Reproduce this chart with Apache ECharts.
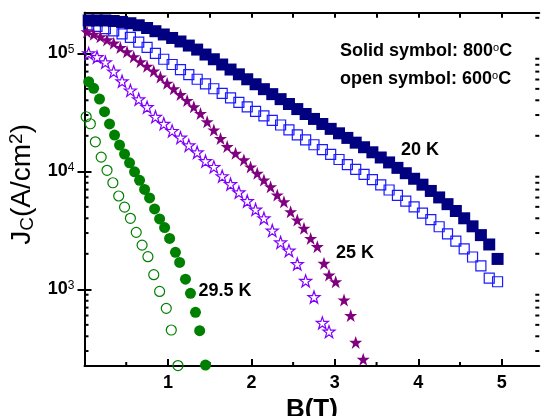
<!DOCTYPE html>
<html>
<head>
<meta charset="utf-8">
<script src="https://cdn.jsdelivr.net/npm/echarts@6/dist/echarts.min.js"></script>
<style>
  html, body { margin: 0; padding: 0; background: #fff; }
  #chart { width: 544px; height: 416px; }
</style>
</head>
<body>
<div id="chart"></div>
<script>
// 20 K, 800 C (solid squares)
const x20s = [0.05, 0.15, 0.25, 0.35, 0.45, 0.55, 0.65, 0.75, 0.85, 0.95, 1.05, 1.15, 1.25, 1.35, 1.45, 1.55, 1.65, 1.75, 1.85, 1.95,
  2.05, 2.15, 2.25, 2.35, 2.45, 2.55, 2.65, 2.75, 2.85, 2.95, 3.05, 3.15, 3.25, 3.35, 3.45, 3.55, 3.65, 3.75, 3.85, 3.95,
  4.05, 4.15, 4.25, 4.35, 4.45, 4.55, 4.65, 4.75, 4.85, 4.95];
const jc20s = [190000, 190000, 190000, 188000, 184500, 180000, 173000, 164000, 154000, 144500, 135000, 126000, 116400, 107600, 97700,
  89100, 80400, 72900, 66400, 60300, 54700, 49700, 45100, 40900, 37200, 33700, 30600, 27800, 25200, 22900,
  21000, 19200, 17500, 16000, 14500, 13100, 11900, 10700, 9640, 8650, 7710, 6820, 6010, 5270, 4610, 4000, 3420, 2880, 2400, 1810];

// 20 K, 600 C (open squares)
const x20o = x20s;
const jc20o = [174000, 169000, 162000, 155000, 146000, 136500, 124500, 112200, 100000, 89100, 80400, 72800, 66100, 60300, 55000,
  50100, 45700, 41900, 38400, 35200, 32200, 29500, 27000, 24700, 22500, 20400, 18500, 16800, 15300, 13900,
  12600, 11400, 10400, 9420, 8510, 7690, 6950, 6250, 5600, 4990, 4420, 3890, 3390, 2950, 2560, 2200, 1880, 1580, 1245, 1160];

// 25 K, 800 C (solid stars)
const x25s = [0.03, 0.11, 0.19, 0.27, 0.35, 0.43, 0.51, 0.59, 0.67, 0.75, 0.83, 0.91, 0.99, 1.07, 1.15, 1.23, 1.31, 1.39, 1.47, 1.55,
  1.63, 1.71, 1.81, 1.91, 1.99, 2.07, 2.15, 2.23, 2.31, 2.39, 2.47, 2.55, 2.63, 2.71, 2.79, 2.87, 2.93, 3.01, 3.11, 3.19, 3.25, 3.34];
const jc25s = [152000, 145000, 138000, 130000, 122000, 112000, 103000, 93500, 85000, 77600, 70800, 63000, 55700, 50100, 44700,
  39800, 35200, 30900, 26300, 22400, 19000, 16200, 14200, 12500, 10900, 9610, 8440, 7410, 6300, 5530, 4550,
  3870, 3290, 2700, 2300, 1660, 1320, 1160, 811, 600, 355, 255];

// 25 K, 600 C (open stars)
const x25o = [0.05, 0.15, 0.25, 0.35, 0.45, 0.55, 0.65, 0.75, 0.85, 0.95, 1.05, 1.15, 1.25, 1.35, 1.45, 1.55, 1.65, 1.75, 1.85, 1.95,
  2.05, 2.15, 2.25, 2.35, 2.45, 2.55, 2.65, 2.75, 2.85, 2.93];
const jc25o = [100000, 93000, 84000, 70000, 58000, 48500, 40800, 35000, 29000, 25300, 22000, 19300, 16600, 14500, 12200,
  10900, 9100, 7800, 6650, 5600, 4750, 4000, 3150, 2500, 2130, 1640, 1180, 860, 520, 438];

// 29.5 K, 800 C (solid circles)
const x29s = [0.05, 0.11, 0.18, 0.24, 0.30, 0.36, 0.42, 0.48, 0.54, 0.60, 0.66, 0.72, 0.78, 0.84, 0.90, 0.96, 1.02, 1.09, 1.14,
  1.21, 1.27, 1.33, 1.38, 1.45];
const jc29s = [57500, 50500, 41000, 32000, 25200, 20300, 16700, 14000, 11800, 9900, 8400, 7030, 5950, 4800, 3950, 3340, 2700,
  2060, 1690, 1220, 925, 638, 446, 228];

// 29.5 K, 600 C (open circles)
const x29o = [0.02, 0.07, 0.13, 0.20, 0.27, 0.34, 0.41, 0.48, 0.55, 0.62, 0.69, 0.76, 0.83, 0.90, 0.98, 1.04, 1.12];
const jc29o = [29000, 25300, 17800, 13200, 10200, 8000, 6180, 4970, 4000, 3040, 2370, 1890, 1330, 960, 690, 452, 226];

// axis ticks
const xMajor = [1, 2, 3, 4, 5];
const xMinor = [0.5, 1.5, 2.5, 3.5, 4.5];
const xTop = [0.5, 1, 1.5, 2, 2.5, 3, 3.5, 4, 4.5, 5];
const yMajor = [1000, 10000, 100000];
const yMinor = [300, 400, 500, 600, 700, 800, 900, 2000, 3000, 4000, 5000, 6000, 7000, 8000, 9000,
  20000, 30000, 40000, 50000, 60000, 70000, 80000, 90000, 200000];

const X_MIN = 0, X_MAX = 5.45, Y_MIN = 224, Y_MAX = 221000;
const FONT = 'Liberation Sans, Arial, sans-serif';
const STAR = 'path://M50,2 L61.8,36.2 L97.6,36.2 L68.6,57.4 L79.4,91.6 L50,70.5 L20.6,91.6 L31.4,57.4 L2.4,36.2 L38.2,36.2 Z';
const MINOR_LEN = 4;

const zip = (xs, ys) => xs.map((x, i) => [x, ys[i]]);

const axisLine = { show: true, lineStyle: { color: '#000', width: 2 } };
const tickStyle = { color: '#000', width: 2 };

const chart = echarts.init(document.getElementById('chart'));

function scatter(name, xs, ys, symbol, size, color, open) {
  return {
    name: name,
    type: 'scatter',
    data: zip(xs, ys),
    symbol: symbol,
    symbolSize: size,
    silent: true,
    itemStyle: open
      ? { color: 'transparent', borderColor: color, borderWidth: 1.2, opacity: 1 }
      : { color: color, opacity: 1 },
  };
}

chart.setOption({
  animation: false,
  grid: { left: 84.5, right: 4.7, top: 12.7, bottom: 50, containLabel: false, outerBoundsMode: 'none' },
  xAxis: [
    {
      type: 'value', position: 'bottom', min: X_MIN, max: X_MAX,
      splitLine: { show: false },
      axisLine: axisLine,
      axisTick: { inside: true, length: 7, lineStyle: tickStyle, customValues: xMajor },
      axisLabel: { customValues: xMajor, color: '#000', fontSize: 18, fontWeight: 'bold', fontFamily: FONT, margin: 8 },
      name: 'B(T)', nameLocation: 'middle', nameGap: 22,
      nameTextStyle: { color: '#000', fontSize: 26, fontWeight: 'bold', fontFamily: FONT },
    },
    {
      type: 'value', position: 'top', min: X_MIN, max: X_MAX,
      splitLine: { show: false },
      axisLine: axisLine,
      axisTick: { inside: true, length: 5, lineStyle: tickStyle, customValues: xTop },
      axisLabel: { show: false },
    },
  ],
  yAxis: [
    {
      type: 'log', position: 'left', min: Y_MIN, max: Y_MAX,
      splitLine: { show: false },
      axisLine: axisLine,
      axisTick: { inside: true, length: 7, lineStyle: tickStyle, customValues: yMajor },
      axisLabel: {
        customValues: yMajor, margin: 10,
        formatter: (v) => '{b|10}{s|' + Math.round(Math.log10(v)) + '}',
        rich: {
          b: { fontSize: 18, fontWeight: 'bold', fontFamily: FONT, color: '#000', lineHeight: 20 },
          s: { fontSize: 12, fontFamily: FONT, color: '#000', verticalAlign: 'top', lineHeight: 12 },
        },
      },
      name: '{t|J}{sub|C}{t|(A/cm}{sup|2}{t|)}',
      nameLocation: 'middle', nameGap: 36,
      nameTextStyle: {
        padding: [0, 0, 0, 10],
        rich: {
          t: { fontSize: 28, fontFamily: FONT, color: '#000', lineHeight: 30 },
          sub: { fontSize: 19, fontFamily: FONT, color: '#000', verticalAlign: 'bottom', lineHeight: 19 },
          sup: { fontSize: 19, fontFamily: FONT, color: '#000', verticalAlign: 'top', lineHeight: 19 },
        },
      },
    },
    {
      type: 'log', position: 'right', min: Y_MIN, max: Y_MAX,
      splitLine: { show: false },
      axisLine: axisLine,
      axisTick: { inside: true, length: 7, lineStyle: tickStyle, customValues: yMajor },
      axisLabel: { show: false },
    },
  ],
  series: [
    scatter('20 K 600', x20o, jc20o, 'rect', 10, '#1a1aff', true),
    scatter('20 K 800', x20s, jc20s, 'rect', 12, '#000080', false),
    scatter('25 K 600', x25o, jc25o, STAR, 12, '#8000ff', true),
    scatter('25 K 800', x25s, jc25s, STAR, 13, '#800080', false),
    scatter('29.5 K 600', x29o, jc29o, 'circle', 10, '#008000', true),
    scatter('29.5 K 800', x29s, jc29s, 'circle', 11, '#008000', false),
    {
      // minor ticks on left and right log axes
      type: 'custom', silent: true,
      data: yMinor.map((v) => [X_MIN, v]),
      renderItem(params, api) {
        const cs = params.coordSys;
        const y = api.coord([X_MIN, api.value(1)])[1];
        const style = { stroke: '#000', lineWidth: 2 };
        return {
          type: 'group',
          children: [
            { type: 'line', shape: { x1: cs.x, y1: y, x2: cs.x + MINOR_LEN, y2: y }, style },
            { type: 'line', shape: { x1: cs.x + cs.width, y1: y, x2: cs.x + cs.width - MINOR_LEN, y2: y }, style },
          ],
        };
      },
    },
    {
      // minor ticks on bottom axis
      type: 'custom', silent: true,
      data: xMinor.map((v) => [v, Y_MIN]),
      renderItem(params, api) {
        const cs = params.coordSys;
        const x = api.coord([api.value(0), Y_MIN])[0];
        const yb = cs.y + cs.height;
        return { type: 'line', shape: { x1: x, y1: yb, x2: x, y2: yb - MINOR_LEN }, style: { stroke: '#000', lineWidth: 2 } };
      },
    },
  ],
  graphic: [
    {
      type: 'text', x: 340, y: 51,
      style: {
        text: '{t|Solid symbol: 800}{s|o}{t|C}', verticalAlign: 'middle',
        rich: {
          t: { fontSize: 18, fontWeight: 'bold', fontFamily: FONT, fill: '#000', lineHeight: 18 },
          s: { fontSize: 11, fontFamily: FONT, fill: '#000', verticalAlign: 'top', lineHeight: 11 },
        },
      },
    },
    {
      type: 'text', x: 340, y: 79,
      style: {
        text: '{t|open symbol: 600}{s|o}{t|C}', verticalAlign: 'middle',
        rich: {
          t: { fontSize: 18, fontWeight: 'bold', fontFamily: FONT, fill: '#000', lineHeight: 18 },
          s: { fontSize: 11, fontFamily: FONT, fill: '#000', verticalAlign: 'top', lineHeight: 11 },
        },
      },
    },
    { type: 'text', x: 401, y: 150, style: { text: '20 K', font: 'bold 18px ' + FONT, fill: '#000', verticalAlign: 'middle' } },
    { type: 'text', x: 336, y: 253.5, style: { text: '25 K', font: 'bold 18px ' + FONT, fill: '#000', verticalAlign: 'middle' } },
    { type: 'text', x: 198.5, y: 291.5, style: { text: '29.5 K', font: 'bold 18px ' + FONT, fill: '#000', verticalAlign: 'middle' } },
  ],
});
</script>
</body>
</html>
